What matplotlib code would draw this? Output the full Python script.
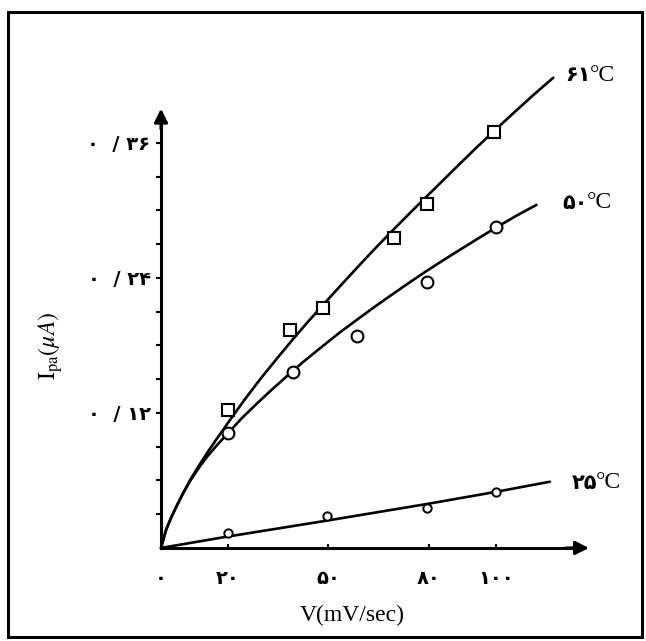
import numpy as np
import matplotlib
matplotlib.use("Agg")
import matplotlib.pyplot as plt
from matplotlib.patches import Rectangle

plt.rcParams['mathtext.fontset'] = 'stix'

# measured points
sq61_x = [20, 38.5, 48.5, 69.5, 79.5, 99.5]
sq61_y = [0.1227, 0.1938, 0.2131, 0.2753, 0.3058, 0.3700]
c50_x = [20, 39.5, 58.5, 79.5, 100]
c50_y = [0.1020, 0.1567, 0.1884, 0.2367, 0.2856]
c25_x = [20, 49.5, 79.5, 100]
c25_y = [0.0136, 0.0284, 0.0353, 0.0500]

# hand drawn curves
curve61_x = [0, 1.5, 3.0, 4.8, 6.7, 9.0, 11.6, 14.0, 16.6, 20.6, 25.0, 29.6, 34.5, 39.5,
             44.0, 48.5, 54.0, 59.4, 64.0, 68.4, 73.0, 77.3, 82.5, 88.0, 93.5, 99.2,
             105.0, 111.1, 117.1]
curve61_y = [0, 0.0160, 0.0268, 0.0381, 0.0492, 0.0620, 0.0745, 0.0855, 0.0968, 0.1138,
             0.1320, 0.1500, 0.1680, 0.1860, 0.2015, 0.2165, 0.2345, 0.2519, 0.2665,
             0.2800, 0.2938, 0.3066, 0.3218, 0.3380, 0.3540, 0.3700, 0.3860, 0.4025,
             0.4180]
curve50_x = [0, 1.5, 3.0, 4.8, 6.7, 9.0, 11.6, 14.0, 16.6, 19.6, 24.0, 28.6, 33.0, 37.5,
             42.5, 48.0, 53.0, 58.4, 63.0, 67.4, 73.0, 78.5, 84.0, 89.3, 94.5, 99.7,
             106.0, 112.1]
curve50_y = [0, 0.0160, 0.0268, 0.0381, 0.0492, 0.0610, 0.0725, 0.0820, 0.0910, 0.1008,
             0.1150, 0.1283, 0.1405, 0.1525, 0.1655, 0.1788, 0.1907, 0.2027, 0.2127,
             0.2220, 0.2336, 0.2447, 0.2553, 0.2652, 0.2748, 0.2842, 0.2952, 0.3050]
curve25_x = [0, 19.6, 49.3, 79.6, 100.2, 116.1]
curve25_y = [0, 0.0100, 0.0242, 0.0392, 0.0500, 0.0589]

xtick_vals = [0, 20, 50, 80, 100]
xtick_labels = ['۰', '۲۰', '۵۰', '۸۰', '۱۰۰']
ytick_vals = [0.12, 0.24, 0.36]
ytick_labels = ['۰  / ۱۲', '۰  / ۲۴', '۰  / ۳۶']
curve_names = ['۶۱', '۵۰', '۲۵']

fig = plt.figure(figsize=(6.46, 6.41), dpi=100)
ax = fig.add_axes([0, 0, 1, 1])
ax.set_xlim(-48.06, 144.78)
ax.set_ylim(-0.0827, 0.4871)

for s in ['top', 'right']:
    ax.spines[s].set_visible(False)
ax.spines['left'].set_position(('data', 0))
ax.spines['bottom'].set_position(('data', 0))
ax.spines['left'].set_bounds(0, 0.385)
ax.spines['bottom'].set_bounds(0, 125)
for s in ['left', 'bottom']:
    ax.spines[s].set_linewidth(2.2)
ax.annotate('', xy=(128.6, 0), xytext=(120, 0),
            arrowprops=dict(arrowstyle='-|>', color='k', lw=2.2, mutation_scale=20))
ax.annotate('', xy=(0, 0.393), xytext=(0, 0.37),
            arrowprops=dict(arrowstyle='-|>', color='k', lw=2.2, mutation_scale=20))

ax.set_yticks(ytick_vals)
ax.set_yticklabels(ytick_labels)
ax.set_yticks(np.arange(0.03, 0.37, 0.03), minor=True)
ax.tick_params(axis='y', which='both', direction='out', length=3.5, width=1.5, pad=4)
ax.set_xticks(xtick_vals)
ax.set_xticklabels(xtick_labels)
ax.tick_params(axis='x', direction='in', length=3, width=1.5, pad=15)
for lab in ax.get_xticklabels() + ax.get_yticklabels():
    lab.set_fontfamily('DejaVu Sans')
    lab.set_fontweight('bold')
    lab.set_fontsize(14)

lw = 1.9
ax.plot(curve61_x, curve61_y, color='k', lw=lw, solid_capstyle='round')
ax.plot(curve50_x, curve50_y, color='k', lw=lw, solid_capstyle='round')
ax.plot(curve25_x, curve25_y, color='k', lw=lw, solid_capstyle='round')

ax.plot(sq61_x, sq61_y, 's', ms=8.5, mfc='white', mec='k', mew=1.5, zorder=3)
ax.plot(c50_x, c50_y, 'o', ms=8.5, mfc='white', mec='k', mew=1.5, zorder=3)
ax.plot(c25_x, c25_y, 'o', ms=6, mfc='white', mec='k', mew=1.4, zorder=3)

# curve labels
label_pos = [(128.4, 0.4204), (127.5, 0.3067), (130.1, 0.0578)]
for name, (lx, ly) in zip(curve_names, label_pos):
    ax.text(lx, ly, name, ha='right', va='center', fontsize=15,
            fontweight='bold', family='DejaVu Sans')
    ax.text(lx - 0.3, ly, '°C', ha='left', va='center', fontsize=17,
            family='Liberation Serif')

ax.text(57, -0.0596, 'V(mV/sec)', ha='center', va='center', fontsize=17,
        family='Liberation Serif')
ax.text(-33.0, 0.18, r'$\mathrm{I_{pa}}(\mu A)$', ha='center', va='center',
        fontsize=17, rotation=90)

fig.add_artist(Rectangle((8 / 646, 1 - 637 / 641), 634 / 646, 625 / 641,
                         transform=fig.transFigure, fill=False, lw=2.2, ec='k'))

fig.savefig('out.png', dpi=100)
